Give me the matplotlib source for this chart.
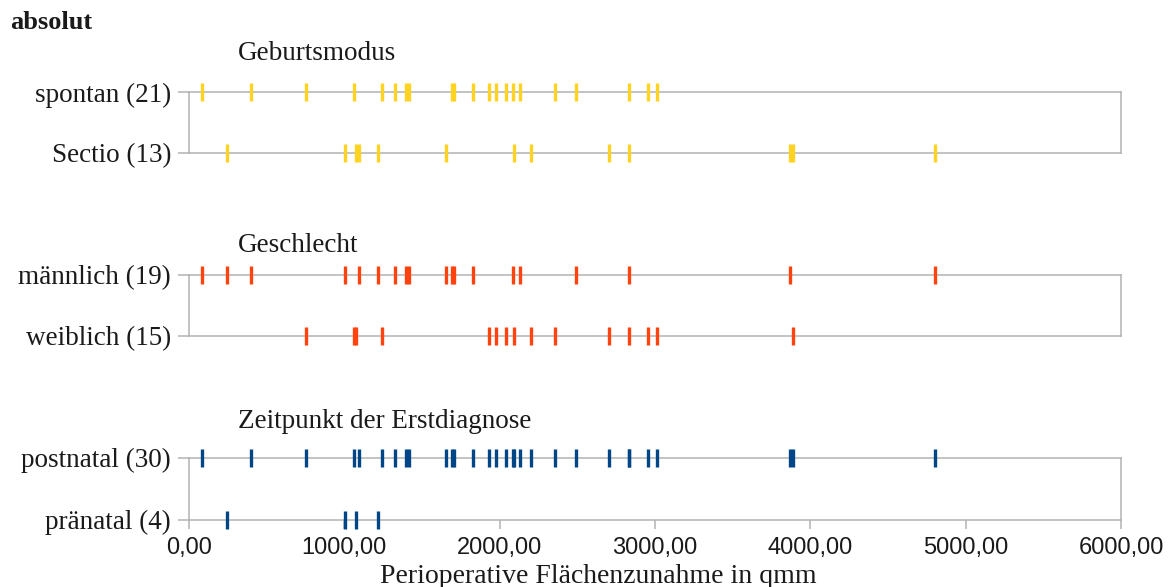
import matplotlib
matplotlib.use("Agg")
import matplotlib.pyplot as plt
from matplotlib.ticker import FuncFormatter

# Perioperative area increase (qmm) per patient, grouped by characteristic
spontan = [81.6, 399.5, 753.9, 1061, 1241, 1323, 1396, 1414, 1690, 1708, 1830,
           1929, 1976, 2043, 2088, 2131, 2358, 2494, 2831, 2955, 3013]
sectio = [243, 1005, 1078, 1096, 1218, 1654, 2094, 2204, 2706, 2831, 3868, 3887, 4800]

maennlich = [81.6, 243, 399.5, 1005, 1096, 1218, 1323, 1396, 1414, 1654, 1690,
             1708, 1830, 2088, 2131, 2494, 2831, 3868, 4800]
weiblich = [753.9, 1061, 1078, 1241, 1929, 1976, 2043, 2094, 2204, 2358, 2706,
            2831, 2955, 3013, 3887]

postnatal = [81.6, 399.5, 753.9, 1061, 1096, 1241, 1323, 1396, 1414, 1654, 1690,
             1708, 1830, 1929, 1976, 2043, 2088, 2094, 2131, 2204, 2358, 2494,
             2706, 2831, 2831, 2955, 3013, 3868, 3887, 4800]
praenatal = [243, 1005, 1078, 1218]

group_titles = ["Geburtsmodus", "Geschlecht", "Zeitpunkt der Erstdiagnose"]
row_names = [("spontan", "Sectio"), ("männlich", "weiblich"), ("postnatal", "pränatal")]
row_values = [(spontan, sectio), (maennlich, weiblich), (postnatal, praenatal)]
group_colors = ["#ffd320", "#ff420e", "#004586"]

x_ticks = [0, 1000, 2000, 3000, 4000, 5000, 6000]
x_label = "Perioperative Flächenzunahme in qmm"
main_title = "absolut"

W, H = 1173, 587
fig = plt.figure(figsize=(W / 100, H / 100), dpi=100)
fig.patch.set_facecolor("white")


def fx(px):
    return px / W


def fy(py):
    return 1 - py / H


SERIF = "Liberation Serif"
SANS = "Liberation Sans"
GRID = "#b3b3b3"
TEXT = "#1a1a1a"

# panel layout: (top row y, bottom row y, title baseline y) in pixels
layout = [(92, 153, 60), (275, 335.5, 252), (457.5, 519.5, 428)]
x_left, x_right = 189, 1121

fig.text(fx(10), fy(29), main_title, fontfamily=SERIF, fontweight="bold",
         fontsize=19, color=TEXT, va="baseline", ha="left")

for i, (title, names, vals, color, (ytop, ybot, ytitle)) in enumerate(
        zip(group_titles, row_names, row_values, group_colors, layout)):
    ax = fig.add_axes([fx(x_left), fy(ybot), fx(x_right) - fx(x_left), (ybot - ytop) / H])
    ax.set_xlim(0, 6000)
    ax.set_ylim(0, 1)
    ax.set_facecolor("none")

    row_h = ybot - ytop
    cols = ax.eventplot([vals[1], vals[0]], lineoffsets=[0, 1],
                        linelengths=18 / row_h, colors=color, linewidths=2.4)
    for c in cols:
        c.set_clip_on(False)
        c.set_zorder(3)

    for sp in ax.spines.values():
        sp.set_color(GRID)
        sp.set_linewidth(1.1)

    labels = [f"{names[1]} ({len(vals[1])})", f"{names[0]} ({len(vals[0])})"]
    ax.set_yticks([0, 1])
    ax.set_yticklabels(labels, fontfamily=SERIF, fontsize=19.5, color=TEXT)
    ax.tick_params(axis="y", length=7.9, width=1.1, color=GRID, pad=5)

    if i == len(group_titles) - 1:
        ax.set_xticks(x_ticks)
        ax.xaxis.set_major_formatter(
            FuncFormatter(lambda v, p: f"{v:.2f}".replace(".", ",")))
        ax.tick_params(axis="x", length=6.5, width=1.1, color=GRID, pad=6,
                       labelsize=17, labelcolor=TEXT)
        for t in ax.get_xticklabels():
            t.set_fontfamily(SANS)
    else:
        ax.tick_params(axis="x", bottom=False, labelbottom=False)

    fig.text(fx(238), fy(ytitle), title, fontfamily=SERIF, fontsize=19.5,
             color=TEXT, va="baseline", ha="left")

fig.text(fx(598), fy(583), x_label, fontfamily=SERIF, fontsize=20,
         color=TEXT, va="baseline", ha="center")

fig.savefig("out.png", dpi=100, facecolor="white")
